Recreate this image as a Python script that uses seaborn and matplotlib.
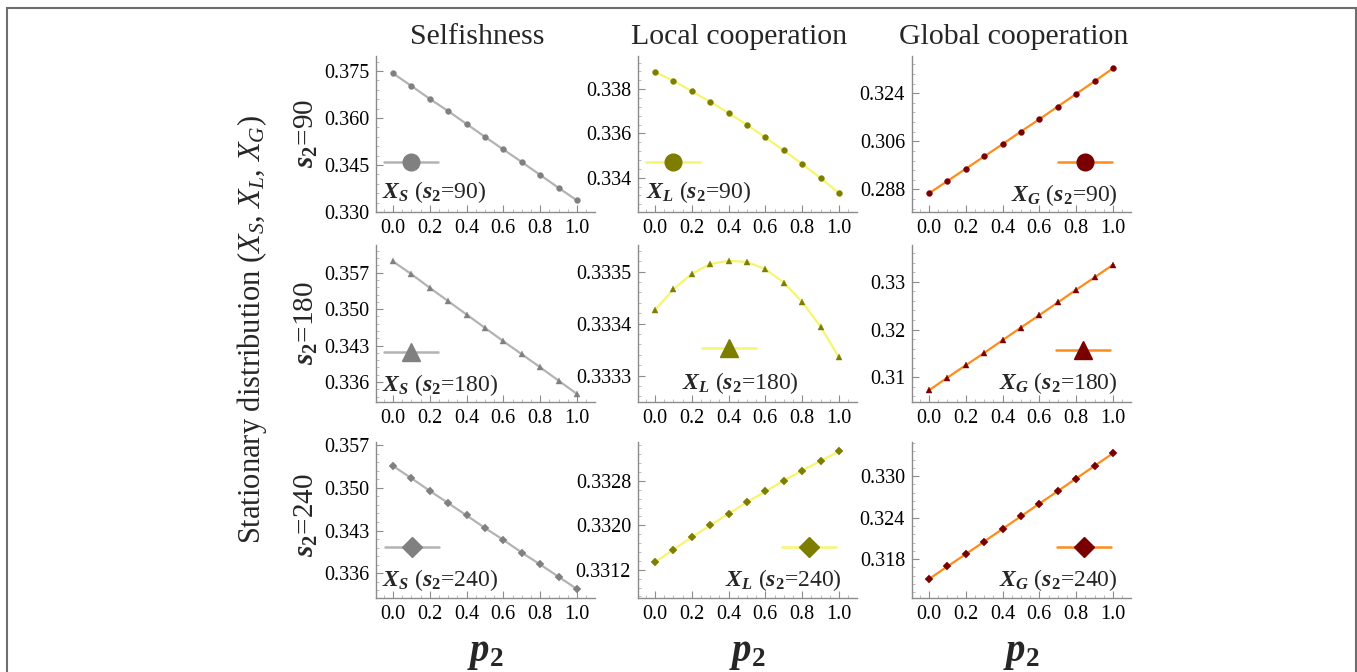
import numpy as np
import pandas as pd
import matplotlib
matplotlib.use("Agg")
import matplotlib.pyplot as plt
import seaborn as sns
from matplotlib.lines import Line2D
from matplotlib.patches import Rectangle
from matplotlib.ticker import AutoMinorLocator, FixedLocator

sns.set_theme(style="white")
plt.rcParams['font.family'] = ['Liberation Serif', 'DejaVu Serif']
plt.rcParams['mathtext.fontset'] = 'custom'
plt.rcParams['mathtext.rm'] = 'Liberation Serif'
plt.rcParams['mathtext.it'] = 'Liberation Serif:italic'
plt.rcParams['mathtext.bf'] = 'Liberation Serif:bold'
plt.rcParams['mathtext.bfit'] = 'Liberation Serif:italic:bold'

# ---------------- data ----------------
p2 = [0.0, 0.1, 0.2, 0.3, 0.4, 0.5, 0.6, 0.7, 0.8, 0.9, 1.0]
s2_values = [90, 180, 240]
col_titles = ["Selfishness", "Local cooperation", "Global cooperation"]
series_letters = ["S", "L", "G"]

xs_90 = [0.37426, 0.37025, 0.36613, 0.36222, 0.35810, 0.35398, 0.34996, 0.34595, 0.34183, 0.33771, 0.33370]
xl_90 = [0.33878, 0.33838, 0.33791, 0.33743, 0.33692, 0.33639, 0.33582, 0.33523, 0.33462, 0.33398, 0.33331]
xg_90 = [0.28651, 0.29111, 0.29572, 0.30033, 0.30494, 0.30967, 0.31428, 0.31902, 0.32375, 0.32848, 0.33334]

xs_180 = [0.35918, 0.35674, 0.35411, 0.35154, 0.34897, 0.34640, 0.34383, 0.34133, 0.33883, 0.33626, 0.33369]
xl_180 = [0.333426, 0.333466, 0.333496, 0.333515, 0.333521, 0.333519, 0.333505, 0.333479, 0.333442, 0.333394, 0.333335]
xg_180 = [0.30727, 0.30993, 0.31252, 0.31510, 0.31776, 0.32042, 0.32301, 0.32566, 0.32832, 0.33091, 0.33357]

xs_240 = [0.35362, 0.35160, 0.34953, 0.34751, 0.34549, 0.34342, 0.34146, 0.33938, 0.33742, 0.33540, 0.33338]
xl_240 = [0.331337, 0.331564, 0.331785, 0.332000, 0.332209, 0.332418, 0.332609, 0.332806, 0.332985, 0.333158, 0.333331]
xg_240 = [0.31512, 0.31694, 0.31872, 0.32054, 0.32237, 0.32419, 0.32602, 0.32784, 0.32966, 0.33149, 0.33331]

ytick_sets = [
    [[0.330, 0.345, 0.360, 0.375], [0.334, 0.336, 0.338], [0.288, 0.306, 0.324]],
    [[0.336, 0.343, 0.350, 0.357], [0.3333, 0.3334, 0.3335], [0.31, 0.32, 0.33]],
    [[0.336, 0.343, 0.350, 0.357], [0.3312, 0.3320, 0.3328], [0.318, 0.324, 0.330]],
]
ytick_fmt = [["%.3f", "%.3f", "%.3f"], ["%.3f", "%.4f", "%.2f"], ["%.3f", "%.4f", "%.3f"]]
xticks = [0.0, 0.2, 0.4, 0.6, 0.8, 1.0]

# ---------------- layout / style ----------------
ylims = [
    [(0.330, 0.3798), (0.33245, 0.3395), (0.27953, 0.33795)],
    [(0.33215, 0.36233), (0.333249, 0.3335515), (0.30483, 0.33769)],
    [(0.33191, 0.35755), (0.330693, 0.333499), (0.31238, 0.33494)],
]
data = [[xs_90, xl_90, xg_90], [xs_180, xl_180, xg_180], [xs_240, xl_240, xg_240]]
line_colors = ["#b3b3b3", "#f7f56e", "#ff8c1a"]
marker_colors = ["#808080", "#7d7d00", "#7a0000"]
row_markers = ["o", "^", "D"]
data_msize = [4.2, 4.6, 3.6]
leg_msize = [12, 13, 10]

W, H = 1357, 672
col_left = [376, 638, 912]
ax_w = 219
row_top = [56, 245, 442]
row_bot = [212, 402, 598]

# legend key (marker x, marker y) and label (x, y, ha) in axes fraction
leg_key = [
    [(0.16, 0.32), (0.16, 0.32), (0.79, 0.32)],
    [(0.16, 0.32), (0.415, 0.344), (0.78, 0.33)],
    [(0.164, 0.327), (0.78, 0.327), (0.785, 0.327)],
]
leg_txt = [
    [(0.027, 0.13, "left"), (0.037, 0.13, "left"), (0.94, 0.11, "right")],
    [(0.027, 0.11, "left"), (0.466, 0.12, "center"), (0.94, 0.12, "right")],
    [(0.027, 0.115, "left"), (0.93, 0.115, "right"), (0.94, 0.115, "right")],
]
half = 27 / ax_w

fig = plt.figure(figsize=(W / 100, H / 100), dpi=100)
spine_c = "#8c8c8c"

for r in range(3):
    for c in range(3):
        left = col_left[c] / W
        bottom = (H - row_bot[r]) / H
        height = (row_bot[r] - row_top[r]) / H
        ax = fig.add_axes([left, bottom, ax_w / W, height])
        df = pd.DataFrame({"p2": p2, "val": data[r][c]})
        sns.lineplot(data=df, x="p2", y="val", ax=ax, color=line_colors[c], lw=1.6,
                     marker=row_markers[r], markersize=data_msize[r],
                     markerfacecolor=marker_colors[c], markeredgecolor=marker_colors[c],
                     markeredgewidth=0.3)
        ax.set_xlim(-0.092, 1.098)
        ax.set_ylim(*ylims[r][c])
        ax.set_xlabel("")
        ax.set_ylabel("")
        ax.set_xticks(xticks)
        ax.set_xticklabels(["%.1f" % t for t in xticks])
        yt = ytick_sets[r][c]
        ax.set_yticks(yt)
        ax.set_yticklabels([ytick_fmt[r][c] % t for t in yt])
        ax.yaxis.set_minor_locator(AutoMinorLocator(5))
        ax.xaxis.set_minor_locator(AutoMinorLocator(4))
        for s in ["top", "right"]:
            ax.spines[s].set_visible(False)
        for s in ["left", "bottom"]:
            ax.spines[s].set_color(spine_c)
            ax.spines[s].set_linewidth(1.0)
        ax.tick_params(which="major", direction="in", length=5, width=0.8,
                       color=spine_c, labelsize=14.5, labelcolor="black",
                       left=True, bottom=True)
        ax.tick_params(which="minor", direction="in", length=2.5, width=0.6,
                       color="#b0b0b0", left=True, bottom=True)
        ax.tick_params(axis="x", which="major", pad=5)
        ax.tick_params(axis="y", which="major", pad=5)
        ax.set_facecolor("white")
        ax.grid(False)

        # legend key
        mx, my = leg_key[r][c]
        ax.add_line(Line2D([mx - half, mx + half], [my, my], transform=ax.transAxes,
                           color=line_colors[c], lw=1.8, clip_on=False))
        ax.add_line(Line2D([mx], [my], transform=ax.transAxes, marker=row_markers[r],
                           markersize=leg_msize[r], color=marker_colors[c],
                           markeredgecolor=marker_colors[c], lw=0, clip_on=False))
        tx, ty, ha = leg_txt[r][c]
        lab = (r"$\mathbfit{X}_{\mathbfit{%s}}$ ($\mathbfit{s}_{\mathbf{2}}$=%d)"
               % (series_letters[c], s2_values[r]))
        ax.text(tx, ty, lab, transform=ax.transAxes, ha=ha, va="center", fontsize=17)

        if r == 0:
            fig.text((col_left[c] + ax_w / 2 - 8) / W, 1 - 37 / H, col_titles[c],
                     ha="center", va="center", fontsize=21.5)
        if r == 2:
            fig.text((col_left[c] + ax_w / 2) / W, 1 - 654 / H,
                     r"$\mathbfit{p}_{\mathbf{2}}$", ha="center", va="center", fontsize=28)

# row labels
row_label_y = [133, 323, 515]
for r in range(3):
    fig.text(306 / W, 1 - row_label_y[r] / H,
             r"$\mathbfit{s}_{\mathbf{2}}$=%d" % s2_values[r],
             rotation=90, ha="center", va="center", fontsize=21)

fig.text(252 / W, 1 - 330 / H, r"Stationary distribution ($X_S$, $X_L$, $X_G$)",
         rotation=90, ha="center", va="center", fontsize=22)

# outer frame
fig.patches.append(Rectangle((7 / W, -0.05), (1356 - 7) / W, (H - 8) / H + 0.05,
                             transform=fig.transFigure, fill=False,
                             edgecolor="#6e6e6e", lw=1.5))

fig.savefig("out.png", dpi=100, facecolor="white")
